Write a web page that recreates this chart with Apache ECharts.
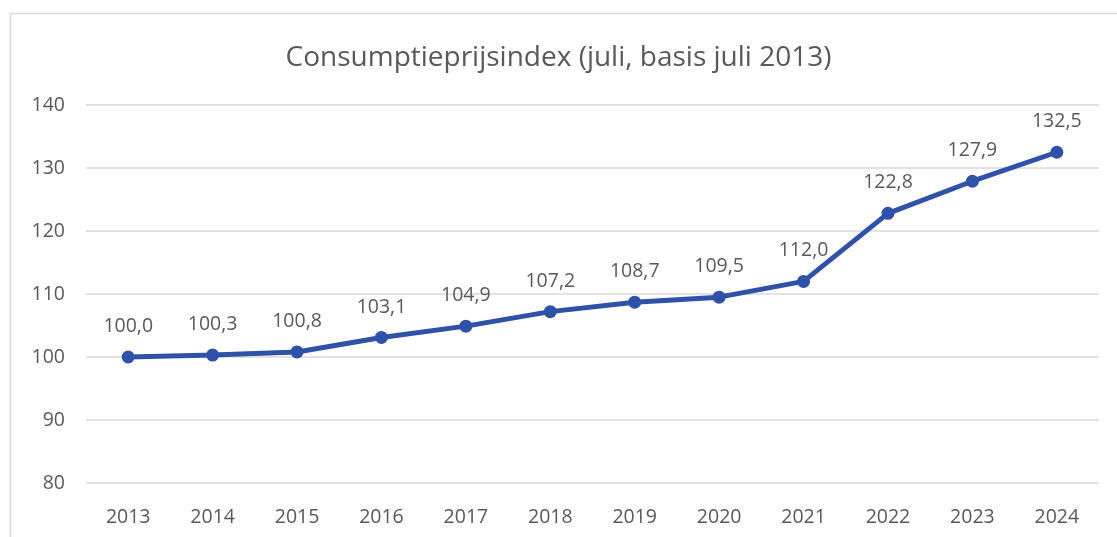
<!DOCTYPE html>
<html>
<head>
<meta charset="utf-8">
<script src="https://cdn.jsdelivr.net/npm/echarts@6/dist/echarts.min.js"></script>
<style>
  html, body { margin: 0; padding: 0; background: #fff; }
  #chart { width: 1117px; height: 537px; }
</style>
</head>
<body>
<div id="chart"></div>
<script>
const years = ['2013', '2014', '2015', '2016', '2017', '2018', '2019', '2020', '2021', '2022', '2023', '2024']
const cpi = [100.0, 100.3, 100.8, 103.1, 104.9, 107.2, 108.7, 109.5, 112.0, 122.8, 127.9, 132.5]
const titleText = 'Consumptieprijsindex (juli, basis juli 2013)'

const fontGray = '#595959'
const lineColor = '#2F52A8'
const fontName = 'Open Sans'

const myChart = echarts.init(document.getElementById('chart'))
myChart.setOption({
  animation: false,
  textStyle: { fontFamily: fontName },
  title: {
    text: titleText,
    left: 'center',
    top: 39,
    textStyle: { color: fontGray, fontSize: 28, fontWeight: 'normal', fontFamily: fontName }
  },
  graphic: [{
    type: 'rect',
    shape: { x: 10.5, y: 13.5, width: 1120, height: 540 },
    style: { fill: 'none', stroke: '#D9D9D9', lineWidth: 1.5 },
    silent: true
  }],
  grid: { left: 86, right: 18, top: 105, bottom: 54 },
  xAxis: {
    type: 'category',
    data: years,
    boundaryGap: true,
    axisLine: { show: false },
    axisTick: { show: false },
    axisLabel: { color: fontGray, fontSize: 19.5, margin: 24 }
  },
  yAxis: {
    type: 'value',
    min: 80,
    max: 140,
    interval: 10,
    axisLine: { show: false },
    axisTick: { show: false },
    axisLabel: { color: fontGray, fontSize: 19.5, margin: 21 },
    splitLine: { lineStyle: { color: '#D9D9D9', width: 1.5 } }
  },
  series: [{
    type: 'line',
    data: cpi,
    symbol: 'circle',
    symbolSize: 13,
    itemStyle: { color: lineColor },
    lineStyle: { color: lineColor, width: 5 },
    label: {
      show: true,
      position: 'top',
      distance: 14,
      color: fontGray,
      fontSize: 19.5,
      formatter: p => p.value.toFixed(1).replace('.', ',')
    }
  }]
})
</script>
</body>
</html>
